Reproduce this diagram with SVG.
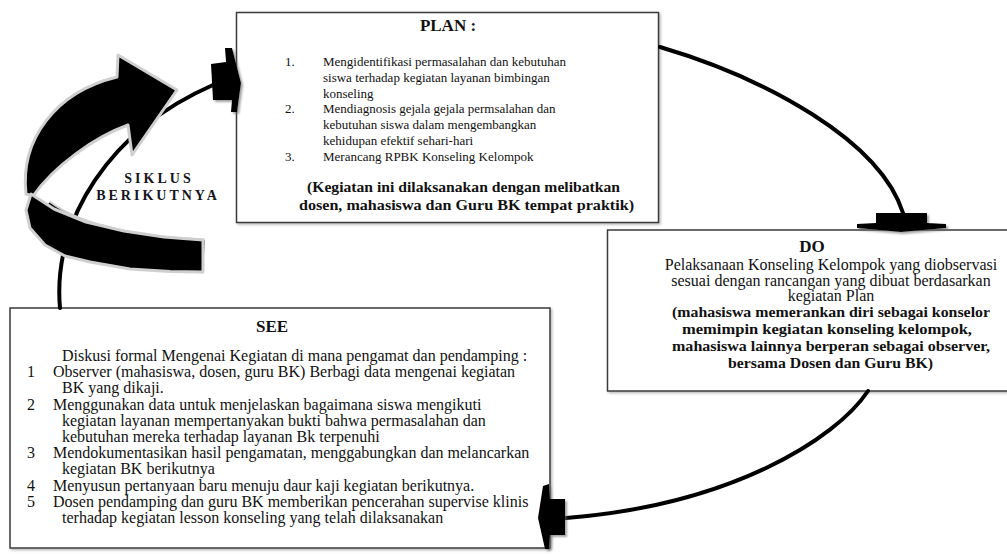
<svg xmlns="http://www.w3.org/2000/svg" width="1007" height="554" viewBox="0 0 1007 554">
<style>
.box{fill:#fff;stroke:#3a3a3a;stroke-width:1.5;filter:url(#bsh)}
.t{font-family:"Liberation Serif","Times New Roman",serif;fill:#111;font-size:13px}
.d{font-size:16px}
.pb{font-size:15px;font-weight:bold}
.db{font-size:15px;font-weight:bold}
.m{text-anchor:middle}
.title{font-family:"Liberation Serif","Times New Roman",serif;font-weight:bold;fill:#111;font-size:17px;text-anchor:middle}
.conn{fill:none;stroke:#000;stroke-width:4;stroke-linecap:round}
.head{fill:#000;filter:url(#sh)}
.big{fill:#000;stroke:#cfcfcf;stroke-width:3;stroke-linejoin:round}
.cyc{font-family:"Liberation Serif","Times New Roman",serif;font-weight:bold;font-size:14px;letter-spacing:3px;fill:#141420;text-anchor:middle}
</style>
<defs>
<filter id="sh" x="-40%" y="-40%" width="180%" height="180%">
<feDropShadow dx="2" dy="2" stdDeviation="1.2" flood-color="#666" flood-opacity="0.6"/>
</filter>
<filter id="bsh" x="-5%" y="-5%" width="110%" height="110%">
<feDropShadow dx="1.5" dy="1.5" stdDeviation="0.8" flood-color="#888" flood-opacity="0.6"/>
</filter>
</defs>

<g id="plan">
<rect class="box" x="236.5" y="12.5" width="422" height="210"/>
<text class="title" x="448" y="31">PLAN :</text>
<text class="t" x="285" y="66">1.</text>
<text class="t" x="323" y="66">Mengidentifikasi permasalahan dan kebutuhan</text>
<text class="t" x="323" y="81.8">siswa terhadap kegiatan layanan bimbingan</text>
<text class="t" x="323" y="97.6">konseling</text>
<text class="t" x="285" y="113.4">2.</text>
<text class="t" x="323" y="113.4">Mendiagnosis gejala gejala permsalahan dan</text>
<text class="t" x="323" y="129.2">kebutuhan siswa dalam mengembangkan</text>
<text class="t" x="323" y="145">kehidupan efektif sehari-hari</text>
<text class="t" x="285" y="160.8">3.</text>
<text class="t" x="323" y="160.8">Merancang RPBK Konseling Kelompok</text>
<text class="t pb" x="307" y="192" textLength="313" lengthAdjust="spacingAndGlyphs">(Kegiatan ini dilaksanakan dengan melibatkan</text>
<text class="t pb" x="299" y="210" textLength="335" lengthAdjust="spacingAndGlyphs">dosen, mahasiswa dan Guru BK tempat praktik)</text>
</g>

<g id="do">
<rect class="box" x="607.5" y="230" width="410" height="161"/>
<text class="title" x="812" y="252">DO</text>
<text class="t d m" x="831" y="270">Pelaksanaan Konseling Kelompok yang diobservasi</text>
<text class="t d m" x="831" y="286">sesuai dengan rancangan yang dibuat berdasarkan</text>
<text class="t d m" x="831" y="301">kegiatan Plan</text>
<text class="t db" x="672" y="317" textLength="318" lengthAdjust="spacingAndGlyphs">(mahasiswa memerankan diri sebagai konselor</text>
<text class="t db" x="682" y="334" textLength="290" lengthAdjust="spacingAndGlyphs">memimpin kegiatan konseling kelompok,</text>
<text class="t db" x="672" y="351" textLength="318" lengthAdjust="spacingAndGlyphs">mahasiswa lainnya berperan sebagai observer,</text>
<text class="t db" x="728" y="368" textLength="205" lengthAdjust="spacingAndGlyphs">bersama Dosen dan Guru BK)</text>
</g>

<g id="see">
<rect class="box" x="10" y="308" width="540" height="240"/>
<text class="title" x="272" y="332">SEE</text>
<text class="t d" x="62" y="361">Diskusi formal Mengenai Kegiatan di mana pengamat dan pendamping :</text>
<text class="t d" x="27" y="377.2">1</text>
<text class="t d" x="53" y="377.2">Observer (mahasiswa, dosen, guru BK) Berbagi data mengenai  kegiatan</text>
<text class="t d" x="62" y="393.4">BK  yang dikaji.</text>
<text class="t d" x="27" y="409.6">2</text>
<text class="t d" x="53" y="409.6">Menggunakan data untuk menjelaskan bagaimana siswa mengikuti</text>
<text class="t d" x="62" y="425.8">kegiatan layanan mempertanyakan bukti bahwa  permasalahan dan</text>
<text class="t d" x="62" y="442">kebutuhan mereka terhadap layanan Bk terpenuhi</text>
<text class="t d" x="27" y="458.2">3</text>
<text class="t d" x="53" y="458.2">Mendokumentasikan hasil pengamatan, menggabungkan dan melancarkan</text>
<text class="t d" x="62" y="474.4">kegiatan  BK berikutnya</text>
<text class="t d" x="27" y="490.6">4</text>
<text class="t d" x="53" y="490.6">Menyusun pertanyaan baru menuju daur kaji kegiatan berikutnya.</text>
<text class="t d" x="27" y="506.8">5</text>
<text class="t d" x="53" y="506.8">Dosen pendamping dan guru BK memberikan pencerahan supervise klinis</text>
<text class="t d" x="62" y="523">terhadap kegiatan lesson konseling yang telah dilaksanakan</text>
</g>

<g id="connectors">
<path class="conn" d="M660,47 C765,78 880,140 903,213"/>
<path class="conn" d="M868,391 C835,440 730,505 566,518"/>
<path class="conn" d="M60,308 C52,220 110,130 213,85"/>
<polygon class="head" points="211,64 226,62 225,48 232,48 241,83 237,112 231,112 232,100 213,100"/>
<polygon class="head" points="876,213 927,213 927,223 946,224 946,228 901,232 857,228 857,224 876,223"/>
<polygon class="head" points="565,499 565,535 550,535 549,549 545,549 538,518 543,486 549,484 550,499"/>
</g>

<g id="siklus">
<path class="big" d="M26,194 C20,140 55,92 117,77 L118,55 L177,90 L132,155 L128,125 C95,137 55,165 33,196 Z"/>
<path d="M204,256 C150,254 80,245 40,215" fill="none" stroke="#cfcfcf" stroke-width="35"/>
<path d="M204,256 C150,254 80,245 40,215" fill="none" stroke="#000" stroke-width="31"/>
<polygon class="big" points="203,240 164,237 124,231 86,222 54,209 31,194 26,210 30,228 45,245 65,256 90,262 130,269 170,271.5 203,272"/>
<text class="cyc" x="159" y="183">SIKLUS</text>
<text class="cyc" x="158" y="200">BERIKUTNYA</text>
</g>
</svg>
